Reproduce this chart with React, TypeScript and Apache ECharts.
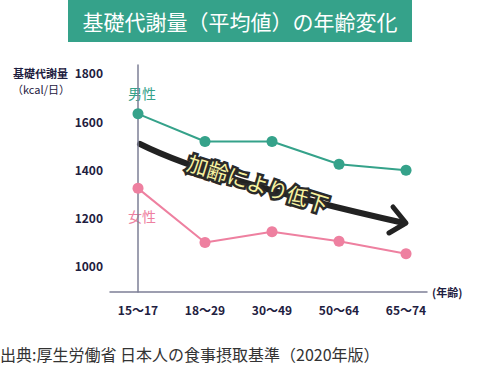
import React, { useEffect, useRef } from "react";
import * as echarts from "echarts";

const categories = ["15～17", "18～29", "30～49", "50～64", "65～74"];
const maleValues = [1630, 1515, 1515, 1420, 1395];
const femaleValues = [1320, 1095, 1140, 1100, 1048];
const yTicks = [1000, 1200, 1400, 1600, 1800];

const GREEN = "#35a28a";
const PINK = "#ee80a0";
const NAVY = "#1e2040";
const FONT = "'Noto Sans CJK JP', 'Noto Sans', sans-serif";

export default function App() {
  const ref = useRef<HTMLDivElement>(null);
  useEffect(() => {
    document.body.style.margin = "0";
    if (!ref.current) return;
    const chart = echarts.init(ref.current, null, { renderer: "svg" });
    const idx = categories.map((_, i) => i);
    chart.setOption({
      animation: false,
      textStyle: { fontFamily: FONT },
      grid: { left: 110, right: 53, top: 65, bottom: 73 },
      xAxis: {
        type: "value",
        min: -0.418,
        max: 4.313,
        splitLine: { show: false },
        axisTick: { show: false },
        axisLine: { show: true, lineStyle: { color: "#7d7f96", width: 1.5 } },
        axisLabel: {
          customValues: idx,
          formatter: (v: number) => categories[Math.round(v)] ?? "",
          color: NAVY,
          fontWeight: "bold",
          fontSize: 12,
          margin: 11,
          fontFamily: FONT,
        },
      },
      yAxis: {
        type: "value",
        min: 889,
        max: 1833,
        splitLine: { show: false },
        axisTick: { show: false },
        axisLine: { show: true, lineStyle: { color: "#7d7f96", width: 1.5 } },
        axisLabel: {
          customValues: yTicks,
          formatter: (v: number) => String(Math.round(v)),
          color: NAVY,
          fontWeight: "bold",
          fontSize: 12,
          margin: 7,
          fontFamily: FONT,
        },
      },
      series: [
        {
          type: "line",
          name: "男性",
          data: maleValues.map((v, i) => [i, v]),
          symbol: "circle",
          symbolSize: 11,
          itemStyle: { color: GREEN },
          lineStyle: { color: GREEN, width: 2 },
        },
        {
          type: "line",
          name: "女性",
          data: femaleValues.map((v, i) => [i, v]),
          symbol: "circle",
          symbolSize: 11,
          itemStyle: { color: PINK },
          lineStyle: { color: PINK, width: 2 },
        },
      ],
      graphic: [
        { type: "rect", shape: { x: 68, y: 0, width: 344, height: 42 }, style: { fill: GREEN } },
        {
          type: "text",
          x: 240,
          y: 21,
          style: {
            text: "基礎代謝量（平均値）の年齢変化",
            fill: "#ffffff",
            fontSize: 21,
            fontFamily: FONT,
            align: "center",
            verticalAlign: "middle",
          },
        },
        {
          type: "text",
          x: 68,
          y: 73,
          style: { text: "基礎代謝量", fill: NAVY, fontSize: 11, fontWeight: "bold", fontFamily: FONT, align: "right", verticalAlign: "middle" },
        },
        {
          type: "text",
          x: 70,
          y: 89,
          style: { text: "（kcal/日）", fill: NAVY, fontSize: 11, fontFamily: FONT, align: "right", verticalAlign: "middle" },
        },
        {
          type: "text",
          x: 432,
          y: 292,
          style: { text: "(年齢)", fill: NAVY, fontSize: 11, fontWeight: "bold", fontFamily: FONT, align: "left", verticalAlign: "middle" },
        },
        {
          type: "text",
          x: 142,
          y: 93,
          style: { text: "男性", fill: GREEN, fontSize: 14, fontFamily: FONT, align: "center", verticalAlign: "middle" },
        },
        {
          type: "text",
          x: 142,
          y: 216,
          style: { text: "女性", fill: PINK, fontSize: 14, fontFamily: FONT, align: "center", verticalAlign: "middle" },
        },
        {
          type: "text",
          x: 0,
          y: 354,
          style: { text: "出典:厚生労働省 日本人の食事摂取基準（2020年版）", fill: "#333333", fontSize: 16, fontFamily: FONT, align: "left", verticalAlign: "middle" },
        },
        {
          type: "bezierCurve",
          shape: { x1: 140, y1: 144, cpx1: 212, cpy1: 180, x2: 404, y2: 223 },
          style: { stroke: "#222222", lineWidth: 6, fill: "none", lineCap: "round" },
        },
        {
          type: "polyline",
          shape: { points: [[393, 207], [406, 223], [389, 233]] },
          style: { stroke: "#222222", lineWidth: 5, fill: "none", lineCap: "round", lineJoin: "round" },
        },
        {
          type: "text",
          x: 258,
          y: 183,
          rotation: -0.3,
          style: {
            text: "加齢により低下",
            fill: "#f7f2a0",
            stroke: "#2a2a2a",
            lineWidth: 5,
            fontSize: 21,
            fontFamily: FONT,
            align: "center",
            verticalAlign: "middle",
          },
        },
      ],
    });
    return () => chart.dispose();
  }, []);
  return <div ref={ref} style={{ width: 480, height: 365 }} />;
}
